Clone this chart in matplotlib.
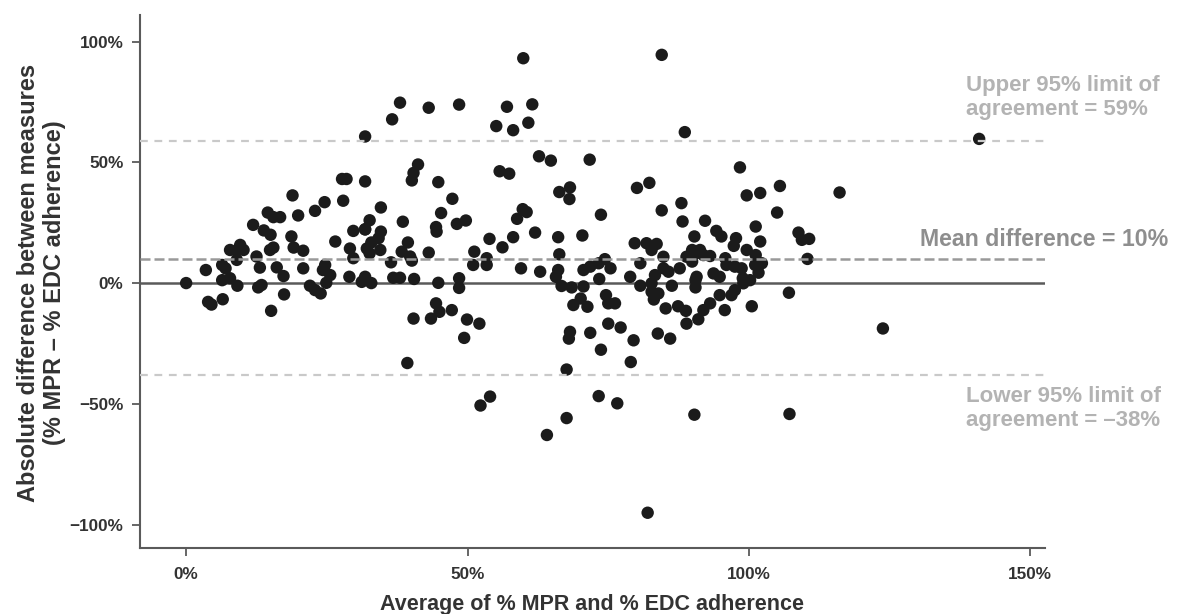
import matplotlib
matplotlib.use("Agg")
import matplotlib.pyplot as plt

plt.rcParams['font.family'] = ['Liberation Sans', 'DejaVu Sans']

# ---- data (percent) ----
avg_pct = [
    31.8, 27.7, 28.5, 31.8, 18.9, 24.6, 27.9, 22.9, 14.5, 15.5, 16.7, 19.9, 11.9, 13.8, 15.0, 18.7,
    26.5, 29.7, 31.8, 32.6, 9.6, 7.8, 9.0, 10.2, 15.5, 14.9, 19.1, 20.8, 29.1, 32.1, 12.5, 29.7,
    9.0, 6.4, 7.0, 3.5, 13.1, 16.1, 20.8, 24.7, 24.3, 6.4, 7.8, 17.3, 25.6, 29.0, 0.0, 31.2,
    9.1, 12.8, 13.4, 17.4, 22.0, 22.9, 23.9, 24.9, 3.9, 4.5, 6.5, 15.1,
    59.9, 38.0, 36.6, 43.1, 48.5, 57.0, 61.5, 55.1, 58.1, 60.8, 41.2, 40.4, 40.1, 44.8, 55.7, 57.4,
    62.7, 64.8, 71.7, 47.3, 34.6, 66.3, 68.2, 68.1, 31.8, 38.5, 45.3, 44.4, 44.5, 48.1, 49.7,
    59.8, 60.5, 58.8, 62.0, 34.6, 34.2, 32.9, 34.5, 32.6, 39.4, 38.3, 40.1, 39.8, 36.4, 43.1,
    53.9, 56.2, 58.1, 66.1, 70.4, 66.3, 51.2, 51.0, 53.4, 53.4, 59.5, 62.9, 66.1, 65.7,
    36.8, 38.0, 40.5, 44.8, 48.5, 48.5, 31.8, 32.9,
    66.7, 68.5, 70.6, 44.4, 45.0, 43.5, 40.4, 47.2, 49.9, 52.1, 49.4, 39.3, 68.8, 70.1, 71.3,
    68.2, 68.0, 71.8, 67.6, 54.0, 52.3, 67.6, 64.1,
    84.5, 88.6, 98.4, 80.1, 82.3, 105.5, 99.6, 102.0, 73.7, 84.5, 88.0, 88.2, 92.2, 94.2, 95.1,
    101.2, 105.0, 108.8, 109.4, 110.7, 79.7, 81.8, 83.6, 82.7, 90.3, 89.9, 91.3, 97.7, 97.3, 99.6,
    102.0, 101.2, 110.4, 74.4, 73.3, 71.8, 70.6, 75.4, 80.7, 84.8, 88.9, 90.5, 91.9, 93.1, 89.9,
    95.8, 96.0, 97.5, 98.7, 101.1, 102.3, 101.7, 84.8, 85.7, 83.3, 87.7, 90.7, 90.5, 93.7, 94.8,
    78.9, 73.4, 98.9, 100.2, 80.7, 82.7, 86.3,
    82.7, 83.9, 83.1, 90.5, 99.0, 97.5, 96.9, 94.8, 107.1, 100.5, 95.7, 93.1, 91.9, 91.0, 88.9,
    87.4, 88.8, 85.2, 74.6, 75.0, 76.2, 75.0, 77.2, 73.7, 79.5, 79.0, 83.8, 86.0, 73.3, 76.6,
    90.3, 107.2, 82.0, 123.8, 140.9, 116.1,
]
diff_pct = [
    60.7, 43.1, 43.1, 42.1, 36.3, 33.5, 34.1, 29.9, 29.2, 27.3, 27.3, 28.0, 24.1, 21.8, 20.0, 19.3,
    17.2, 21.6, 22.2, 26.0, 15.8, 13.7, 13.3, 13.7, 14.7, 13.7, 14.7, 13.4, 14.3, 14.3, 11.0, 10.3,
    9.6, 7.5, 6.1, 5.4, 6.4, 6.5, 6.1, 7.5, 5.4, 1.2, 2.0, 2.9, 3.3, 2.6, 0.0, 0.5,
    -1.1, -1.8, -0.8, -4.7, -1.1, -2.9, -4.3, 0.1, -7.8, -8.9, -6.7, -11.5,
    93.1, 74.7, 67.8, 72.6, 73.9, 73.0, 74.0, 65.0, 63.3, 66.4, 49.1, 45.6, 42.5, 41.8, 46.3, 45.3,
    52.5, 50.7, 51.1, 34.9, 31.3, 37.7, 39.6, 34.8, 22.3, 25.4, 29.0, 23.2, 21.3, 24.5, 25.9,
    30.6, 29.4, 26.6, 20.9, 21.3, 18.6, 16.8, 13.7, 12.3, 16.8, 13.0, 9.3, 11.0, 8.6, 12.6,
    18.3, 14.8, 19.0, 19.0, 19.7, 11.9, 13.0, 7.5, 10.3, 7.5, 6.1, 4.7, 5.4, 2.6,
    2.2, 2.2, 1.7, 0.1, 2.0, -2.0, 2.6, 0.0,
    -1.2, -1.8, -1.4, -8.4, -11.9, -14.7, -14.7, -11.2, -15.1, -16.8, -22.7, -33.1, -9.1, -6.4, -9.8,
    -20.2, -23.0, -20.6, -35.8, -47.0, -50.7, -55.9, -62.9,
    94.5, 62.5, 47.9, 39.4, 41.5, 40.2, 36.3, 37.3, 28.3, 30.1, 33.1, 25.5, 25.8, 21.6, 19.3,
    23.4, 29.2, 20.9, 17.9, 18.3, 16.5, 16.5, 16.2, 13.7, 19.3, 13.7, 13.7, 18.6, 15.4, 13.7,
    17.2, 11.6, 10.0, 9.9, 8.2, 6.8, 5.4, 6.1, 8.2, 10.9, 10.9, 12.3, 11.6, 11.2, 8.9,
    10.3, 7.5, 6.8, 6.1, 7.5, 8.2, 4.3, 6.1, 4.7, 3.3, 6.1, 2.6, 1.2, 4.0, 2.6,
    2.6, 1.7, 2.0, 1.2, -1.1, -0.1, -1.1,
    -3.6, -4.3, -6.8, -1.8, -0.1, -2.9, -5.0, -5.0, -4.0, -9.6, -11.2, -8.4, -11.2, -15.0, -16.8,
    -9.6, -11.5, -10.5, -5.0, -8.4, -8.4, -16.8, -18.4, -27.6, -23.7, -32.7, -20.9, -23.0, -46.8, -49.8,
    -54.5, -54.2, -95.1, -18.8, 59.7, 37.5,
]

mean_diff = 10
upper_loa = 59
lower_loa = -38

x_ticks = [0, 50, 100, 150]
x_tick_labels = ['0%', '50%', '100%', '150%']
y_ticks = [-100, -50, 0, 50, 100]
y_tick_labels = ['\u2212100%', '\u221250%', '0%', '50%', '100%']

W, H = 1179, 614
fig = plt.figure(figsize=(W / 100, H / 100), dpi=100)
ax = fig.add_axes([140 / W, 1 - 548 / H, (1045 - 140) / W, (548 - 15) / H])

ax.set_xlim(-8.2, 152.6)
ax.set_ylim(-109.7, 111)

# zero line (under points)
ax.axhline(0, color='#5a5a5a', lw=1.8, zorder=1)

ax.scatter(avg_pct, diff_pct, s=80, color='#1b1b1b', edgecolors='none', zorder=2)

# agreement lines on top
ax.axhline(upper_loa, color='#c9c9c9', lw=1.6, dashes=(3.5, 3), zorder=3)
ax.axhline(lower_loa, color='#c9c9c9', lw=1.6, dashes=(3.5, 3), zorder=3)
ax.axhline(mean_diff, color='#999999', lw=1.8, dashes=(4, 1.6), zorder=3)

for s in ['top', 'right']:
    ax.spines[s].set_visible(False)
for s in ['left', 'bottom']:
    ax.spines[s].set_color('#5a5a5a')
    ax.spines[s].set_linewidth(1.5)

ax.set_xticks(x_ticks)
ax.set_xticklabels(x_tick_labels)
ax.set_yticks(y_ticks)
ax.set_yticklabels(y_tick_labels)
ax.tick_params(axis='both', colors='#5a5a5a', length=6, width=1.3,
               labelsize=12.3, labelcolor='#333333')
for lab in ax.get_xticklabels() + ax.get_yticklabels():
    lab.set_fontweight('bold')
ax.tick_params(axis='x', pad=8)
ax.tick_params(axis='y', pad=6)

ax.set_xlabel('Average of % MPR and % EDC adherence', fontsize=15.5,
              fontweight='bold', color='#333333', labelpad=8)

fig.text(41.5 / W, 1 - 283 / H,
         'Absolute difference between measures\n(% MPR \u2013 % EDC adherence)',
         fontsize=17, fontweight='bold', color='#333333', rotation=90,
         ha='center', va='center', linespacing=1.12)

# annotations
fig.text(966 / W, 1 - 97.5 / H, 'Upper 95% limit of\nagreement = 59%', fontsize=16,
         fontweight='bold', color='#b3b3b3', ha='left', va='center', linespacing=1.15)
fig.text(920 / W, 1 - 240 / H, 'Mean difference = 10%', fontsize=16.7,
         fontweight='bold', color='#8e8e8e', ha='left', va='center')
fig.text(966 / W, 1 - 408.5 / H, 'Lower 95% limit of\nagreement = \u201338%', fontsize=16,
         fontweight='bold', color='#b3b3b3', ha='left', va='center', linespacing=1.15)

fig.savefig('out.png', dpi=100)
